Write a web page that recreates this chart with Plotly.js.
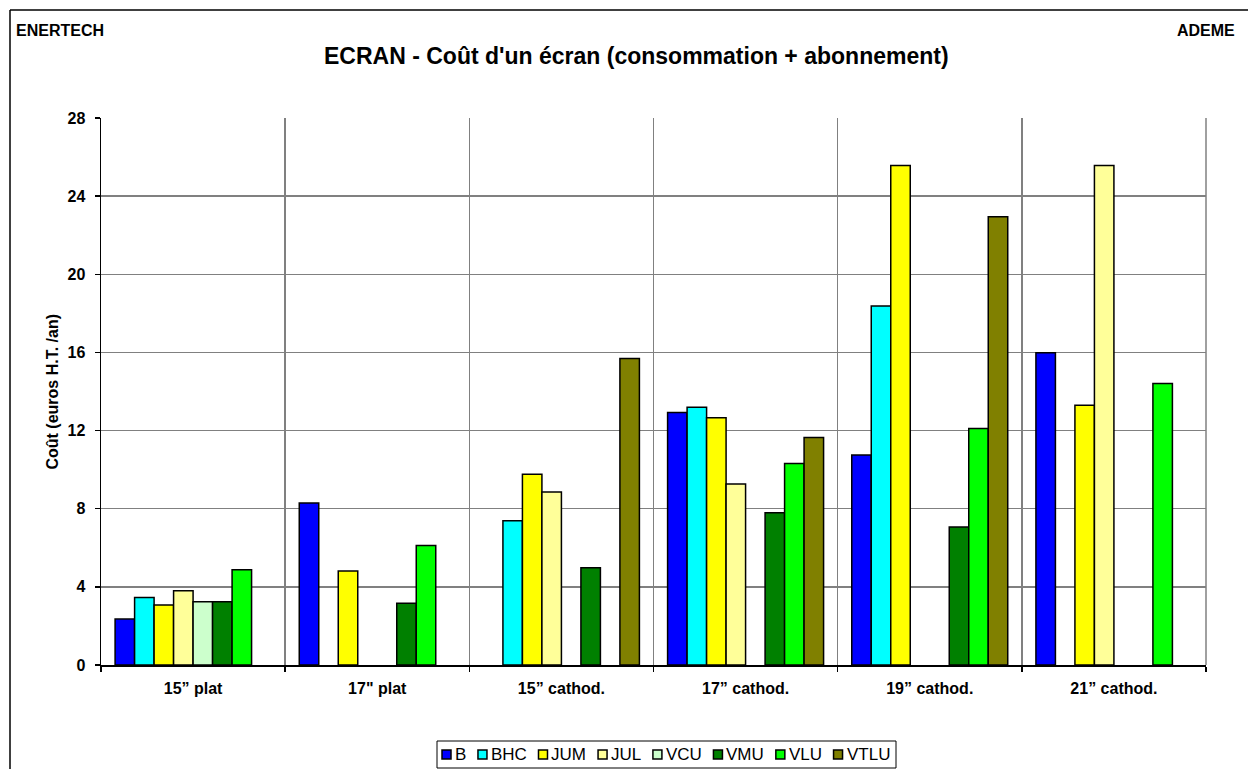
<!DOCTYPE html>
<html>
<head>
<meta charset="utf-8">
<script src="https://cdn.plot.ly/plotly-3.0.1.min.js"></script>
<style>
  html, body { margin: 0; padding: 0; background: #fff; }
  #chart { width: 1248px; height: 769px; }
</style>
</head>
<body>
<div id="chart"></div>
<script>
// ---- Data ----
const categories = ['15\u201d plat', '17" plat', '15\u201d cathod.', '17\u201d cathod.', '19\u201d cathod.', '21\u201d cathod.'];
const seriesNames = ['B', 'BHC', 'JUM', 'JUL', 'VCU', 'VMU', 'VLU', 'VTLU'];
const B    = [2.35, 8.29, null, 12.93, 10.75, 15.98];
const BHC  = [3.46, null, 7.38, 13.20, 18.38, null];
const JUM  = [3.07, 4.81, 9.77, 12.65, 25.57, 13.30];
const JUL  = [3.80, null, 8.86, 9.27, null, 25.57];
const VCU  = [3.24, null, null, null, null, null];
const VMU  = [3.24, 3.16, 4.98, 7.79, 7.07, null];
const VLU  = [4.87, 6.12, null, 10.32, 12.11, 14.41];
const VTLU = [null, null, 15.69, 11.64, 22.94, null];
const yTicks = [0, 4, 8, 12, 16, 20, 24, 28];

const seriesValues = [B, BHC, JUM, JUL, VCU, VMU, VLU, VTLU];
const seriesColors = ['#0000FF', '#00FFFF', '#FFFF00', '#FFFF99', '#CCFFCC', '#008000', '#00FF00', '#808000'];

// ---- Geometry (pixels) ----
const W = 1248, H = 769;
const PL = 101, PR = 1206, PT = 118, PB = 665;
const xp = px => (px - PL) / (PR - PL);
const yp = py => (PB - py) / (PB - PT);
const FONT = 'Arial, "Liberation Sans", sans-serif';

const traces = seriesNames.map((name, i) => ({
  type: 'bar',
  name: name,
  x: categories,
  y: seriesValues[i],
  marker: { color: seriesColors[i], line: { color: '#000', width: 1.5 } },
  hoverinfo: 'skip',
  showlegend: false
}));

// ---- custom legend ----
const legFont = 17;
const cnv = document.createElement('canvas').getContext('2d');
cnv.font = legFont + 'px ' + FONT;
const textW = seriesNames.map(n => cnv.measureText(n).width);
const sq = 9, sqGap = 3;
const legStart = 442, legEnd = 889;
const sumText = textW.reduce((a, b) => a + b, 0);
const itemGap = (legEnd - legStart - sumText - seriesNames.length * (sq + sqGap)) / (seriesNames.length - 1);
const legCy = 754.5;

const shapes = [
  // outer frame (left and top edges)
  { type: 'line', xref: 'paper', yref: 'paper', x0: xp(10), x1: xp(1250), y0: yp(10), y1: yp(10), line: { color: '#000', width: 1.5 } },
  { type: 'line', xref: 'paper', yref: 'paper', x0: xp(10), x1: xp(10), y0: yp(10), y1: yp(772), line: { color: '#000', width: 1.5 } },
  // plot area right border
  { type: 'line', xref: 'paper', yref: 'paper', x0: 1, x1: 1, y0: 0, y1: 1, line: { color: '#808080', width: 1.5 } },
  // legend box
  { type: 'rect', xref: 'paper', yref: 'paper', x0: xp(437), x1: xp(896), y0: yp(741), y1: yp(768), line: { color: '#000', width: 1 }, fillcolor: '#fff', layer: 'below' }
];
const annotations = [
  { text: '<b>ENERTECH</b>', x: xp(14), xanchor: 'left', y: yp(30.5), yanchor: 'middle', xref: 'paper', yref: 'paper', showarrow: false, font: { family: FONT, size: 16, color: '#000' } },
  { text: '<b>ADEME</b>', x: xp(1237), xanchor: 'right', y: yp(30.5), yanchor: 'middle', xref: 'paper', yref: 'paper', showarrow: false, font: { family: FONT, size: 16, color: '#000' } },
  { text: "<b>ECRAN - Co\u00fbt d'un \u00e9cran (consommation + abonnement)</b>", x: xp(636), xanchor: 'center', y: yp(56), yanchor: 'middle', xref: 'paper', yref: 'paper', showarrow: false, font: { family: FONT, size: 23, color: '#000' } },
  { text: '<b>Co\u00fbt (euros H.T. /an)</b>', textangle: -90, x: xp(52), xanchor: 'center', y: 0.5, yanchor: 'middle', xref: 'paper', yref: 'paper', showarrow: false, font: { family: FONT, size: 16, color: '#000' } }
];
let cx = legStart;
seriesNames.forEach((n, i) => {
  shapes.push({ type: 'rect', xref: 'paper', yref: 'paper', x0: xp(cx), x1: xp(cx + sq), y0: yp(legCy - sq / 2), y1: yp(legCy + sq / 2), fillcolor: seriesColors[i], line: { color: '#000', width: 1.5 } });
  annotations.push({ text: n, x: xp(cx + sq + sqGap - 1), xanchor: 'left', y: yp(legCy), yanchor: 'middle', xref: 'paper', yref: 'paper', showarrow: false, font: { family: FONT, size: legFont, color: '#000' } });
  cx += sq + sqGap + textW[i] + itemGap;
});

const layout = {
  width: W, height: H,
  margin: { l: PL, r: W - PR, t: PT, b: H - PB, pad: 0 },
  paper_bgcolor: '#fff', plot_bgcolor: '#fff',
  barmode: 'group', bargap: 0.153, bargroupgap: 0,
  showlegend: false,
  font: { family: FONT, color: '#000' },
  xaxis: {
    type: 'category', tickson: 'boundaries',
    showgrid: true, gridcolor: '#808080', gridwidth: 1.5,
    showline: true, linecolor: '#000', linewidth: 1.5,
    ticks: 'outside', ticklen: 5, tickwidth: 1.5, tickcolor: '#000',
    ticklabelstandoff: 8,
    tickfont: { family: FONT, size: 16, color: '#000', weight: 'bold' },
    fixedrange: true
  },
  yaxis: {
    range: [0, 28], tickvals: yTicks, ticktext: yTicks.map(String),
    showgrid: true, gridcolor: '#808080', gridwidth: 1.5, zeroline: false,
    showline: true, linecolor: '#000', linewidth: 1.5,
    ticks: 'outside', ticklen: 5, tickwidth: 1.5, tickcolor: '#000',
    ticklabelstandoff: 6,
    tickfont: { family: FONT, size: 16, color: '#000', weight: 'bold' },
    fixedrange: true
  },
  shapes: shapes,
  annotations: annotations
};

Plotly.newPlot('chart', traces, layout, { staticPlot: true, displayModeBar: false });
</script>
</body>
</html>
